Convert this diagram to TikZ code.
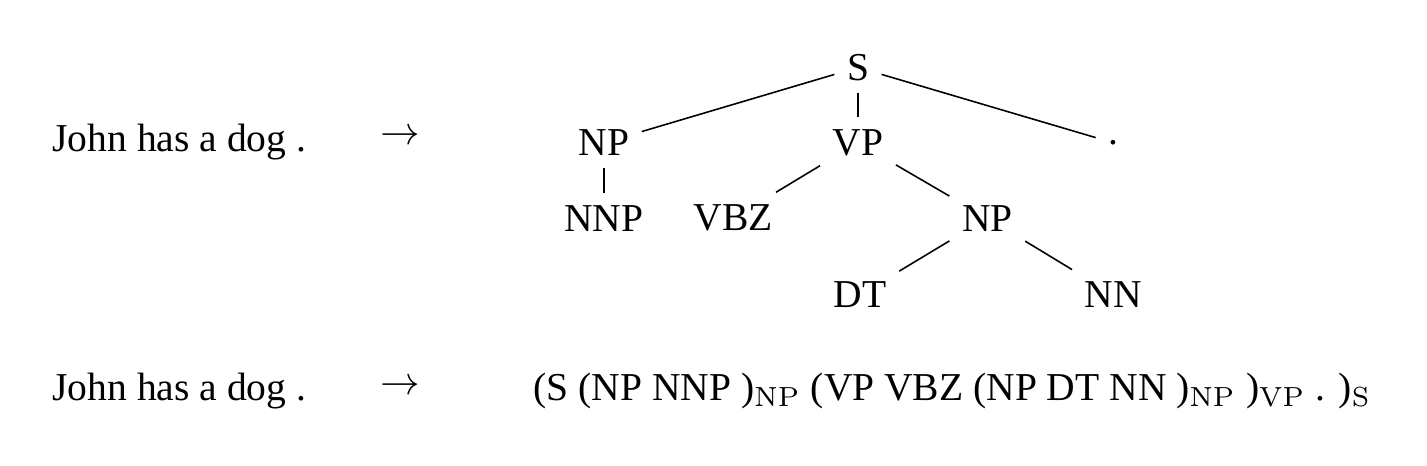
\documentclass[tikz,border=0pt]{standalone}
\usepackage[no-math]{fontspec}
\setmainfont{Liberation Serif}
\usepackage{tikz}
\usetikzlibrary{positioning}

\tikzset{
    sent/.style={anchor=base west, inner sep=0pt},
    arrw/.style={inner sep=0pt},
    cat/.style={inner sep=3pt}
}

\begin{document}
\begin{tikzpicture}
    \useasboundingbox (0.00, 0.00) rectangle (12.69, 4.14);
    % sentence -> tree
    \node[sent] (sentA) at (0.46, 2.79) {John has a dog .};
    \node[arrw] (arrA)  at (3.56, 2.92) {$\rightarrow$};
    \node[cat]  (s)     at (7.63, 3.54) {S};
    \node[cat]  (npA)   at (5.37, 2.87) {NP};
    \node[cat]  (vp)    at (7.63, 2.87) {VP};
    \node[cat]  (pnt)   at (9.90, 2.87) {.};
    \node[cat]  (nnp)   at (5.37, 2.20) {NNP};
    \node[cat]  (vbz)   at (6.52, 2.20) {VBZ};
    \node[cat]  (npB)   at (8.78, 2.20) {NP};
    \node[cat]  (dt)    at (7.65, 1.52) {DT};
    \node[cat]  (nn)    at (9.90, 1.52) {NN};
    \draw (s)   -- (npA);
    \draw (s)   -- (vp);
    \draw (s)   -- (pnt);
    \draw (npA) -- (nnp);
    \draw (vp)  -- (vbz);
    \draw (vp)  -- (npB);
    \draw (npB) -- (dt);
    \draw (npB) -- (nn);
    % sentence -> bracketed string
    \node[sent] (sentB) at (0.46, 0.58) {John has a dog .};
    \node[arrw] (arrB)  at (3.56, 0.70) {$\rightarrow$};
    \node[sent] (brkt)  at (4.74, 0.58)
        {(S (NP NNP )$_{\mathrm{NP}}$ (VP VBZ (NP DT NN )$_{\mathrm{NP}}$ )$_{\mathrm{VP}}$ . )$_{\mathrm{S}}$};
\end{tikzpicture}
\end{document}
